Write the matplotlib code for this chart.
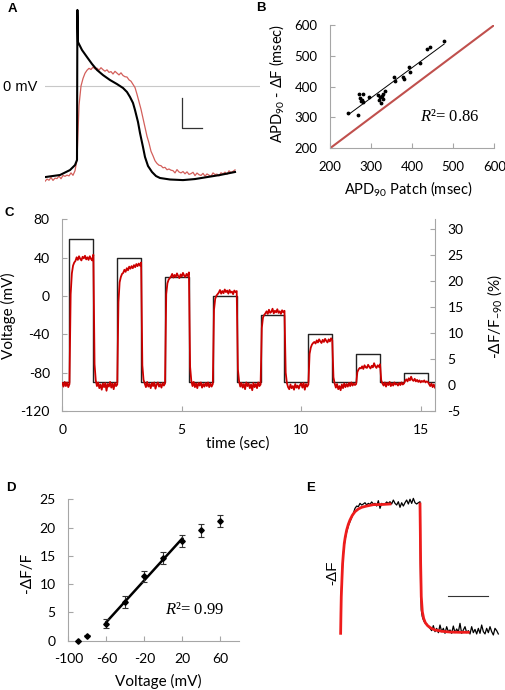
import numpy as np
import matplotlib.pyplot as plt

plt.rcParams['font.family'] = ['Lato', 'DejaVu Sans']
plt.rcParams['mathtext.fontset'] = 'custom'
plt.rcParams['mathtext.rm'] = 'Lato'
plt.rcParams['mathtext.it'] = 'Liberation Serif:italic'
plt.rcParams['axes.unicode_minus'] = False

# ---------------- data ----------------
# A: action potential, patch clamp (black) and optical signal (red)
ap_patch_t = [0, 75, 125, 150, 160, 162, 165, 185, 210, 235, 260, 290, 325, 360, 390, 410, 425,
              440, 450, 465, 475, 490, 500, 515, 535, 555, 575, 625, 690, 750, 810, 875, 950]
ap_patch_v = [-60.7, -59.3, -56, -52.7, -49.3, 50.7, 29.3, 24, 19.3, 14.7, 10.7, 7.3, 4, 1.3, -1.3,
              -4, -7.3, -11.3, -16, -24, -31.3, -40.7, -47.3, -53.3, -57.3, -60, -61.3, -62.3,
              -62.7, -62, -60.7, -59.3, -57.3]
ap_optical_dt = 10  # ms per sample
ap_optical_v = [
    -63.5, -62.0, -62.8, -61.0, -62.9, -61.4, -61.7, -60.0, -61.8, -59.6,
    -60.2, -59.4, -59.9, -57.9, -59.5, -56.5, -49.0, -13.0, 0.0, 5.0,
    8.5, 10.5, 11.8, 11.0, 12.6, 11.4, 11.9, 10.6, 12.2, 10.9,
    9.9, 10.8, 9.1, 9.6, 8.0, 9.8, 8.6, 7.4, 8.8, 7.0,
    6.2, 6.0, 4.1, 3.2, 1.1, -1.0, -5.5, -10.5, -15.5, -21.5,
    -27.5, -33.5, -38.0, -43.5, -46.5, -49.8, -51.6, -52.8, -53.1, -54.5,
    -54.2, -55.8, -55.3, -56.1, -56.4, -57.9, -55.7, -57.3, -57.9, -57.0,
    -58.5, -57.2, -58.9, -58.4, -57.5, -59.7, -58.0, -59.1, -59.6, -58.2,
    -60.1, -58.6, -59.4, -60.2, -57.9, -59.0, -58.7, -59.9, -57.8, -58.6,
    -57.4, -58.8, -56.5, -57.7, -56.9, -55.9]

# B: APD90 patch vs optical
apd_patch = [245, 267, 271, 280, 273, 277, 281, 275, 296, 318, 322, 326, 330, 320, 323, 328, 334,
             356, 358, 377, 380, 393, 394, 418, 437, 444, 478]
apd_optical = [316, 308, 376, 376, 362, 357, 351, 354, 367, 373, 366, 370, 376, 357, 348, 361, 387,
               430, 418, 430, 424, 465, 449, 478, 521, 530, 549]

# C: voltage steps and -dF/F
step_start = [0.3, 2.3, 4.3, 6.3, 8.3, 10.3, 12.3, 14.3]
step_level = [60, 40, 20, 0, -20, -40, -60, -80]
step_len = 1.0
holding_mv = -90
dff_dt = 0.05  # s per sample
dff_trace = [
    # 0-2 s, step to 60 mV
    0.4, -0.3, 0.6, -0.2, 0.5, -0.4, 0.2, 17.5, 21.5, 23.0, 23.6,
    23.9, 24.6, 24.1, 24.8, 24.3, 24.0, 24.7, 24.4, 24.9, 24.2, 24.6, 24.1, 24.8, 24.3, 24.0, 25.1,
    4.0, 0.9, -0.2, 0.5, -0.6, 0.1, -0.9, 0.3, -0.4, 0.4, -1.1, 0.2, -0.3,
    # 2-4 s, 40 mV
    0.6, -0.5, 0.3, -0.8, 0.4, -0.2, 0.1, 16.0, 19.8, 20.8, 21.4,
    21.6, 22.2, 21.8, 22.5, 22.1, 22.8, 22.4, 22.9, 22.5, 23.1, 22.7, 23.3, 22.9, 23.4, 23.0, 23.6,
    3.8, 1.0, 0.3, -0.4, 0.6, -0.3, 0.2, -0.6, 0.4, -0.2, 0.5, -0.7, 0.1,
    # 4-6 s, 20 mV
    0.5, -0.3, 0.2, -0.5, 0.4, -0.1, 0.3, 17.5, 19.6, 20.3, 20.6,
    20.9, 21.4, 20.7, 21.2, 20.8, 21.5, 21.0, 20.6, 21.3, 20.9, 21.6, 21.1, 20.8, 21.4, 21.0, 21.7,
    3.5, 0.8, -0.2, 0.6, -0.4, 0.3, -0.6, 0.4, -0.1, 0.5, -0.5, 0.2, -0.3,
    # 6-8 s, 0 mV
    0.4, -0.2, 0.5, -0.4, 0.3, -0.3, 0.2, 14.5, 16.6, 17.2, 17.5,
    17.8, 18.3, 17.6, 18.1, 17.7, 18.4, 17.9, 18.2, 17.6, 18.3, 17.8, 18.0, 17.5, 18.2, 17.9, 18.1,
    3.0, 0.7, -0.3, 0.4, -0.5, 0.2, -0.8, 0.5, -0.2, 0.3, -0.6, 0.1, -1.0,
    # 8-10 s, -20 mV
    0.4, -0.4, 0.2, -0.6, 0.5, -0.2, 0.1, 11.0, 13.0, 13.5, 13.8,
    14.2, 13.7, 14.5, 13.9, 14.1, 14.7, 13.8, 14.3, 14.0, 14.6, 13.9, 14.2, 13.7, 14.4, 14.0, 14.3,
    2.4, 0.4, -0.4, -0.8, 0.1, -0.6, -0.2, -0.9, 0.2, -0.5, -0.1, -0.7, 0.0,
    # 10-12 s, -40 mV
    0.3, -0.5, 0.4, -0.9, 0.2, -0.3, 0.1, 6.0, 7.2, 7.8, 8.1,
    8.3, 8.0, 8.6, 8.2, 8.8, 8.4, 8.1, 8.7, 8.3, 8.9, 8.5, 8.2, 8.8, 8.4, 9.0, 8.6,
    1.5, 0.3, -0.5, 0.2, -0.8, -0.2, -1.0, 0.1, -0.6, 0.3, -0.4, 0.2, -0.3,
    # 12-14 s, -60 mV
    0.4, -0.2, 0.5, -0.1, 0.3, 0.0, 0.2, 2.5, 3.0, 3.3, 3.2,
    3.6, 3.1, 3.8, 3.4, 3.3, 3.9, 3.5, 3.2, 3.7, 3.4, 4.2, 3.6, 3.3, 3.8, 3.5, 4.0,
    0.9, 0.3, -0.1, 0.5, -0.3, 0.4, 0.0, 0.6, -0.2, 0.3, -0.1, 0.5, 0.1,
    # 14-15.6 s, -80 mV
    0.3, -0.1, 0.4, 0.0, 0.5, 0.1, 0.3,
    0.8, 1.1, 0.7, 1.3, 0.9, 1.6, 1.0, 0.8, 1.2, 0.7, 1.0, 0.6, 0.9, 0.5, 0.8, 0.6, 0.9, 0.5, 0.7, 0.6,
    0.2, -0.2, 0.3, -0.4, 0.1, -0.5]

# D: -dF/F vs step voltage
step_mv = [-90, -80, -60, -40, -20, 0, 20, 40, 60]
dff_mean = [0.0, 0.85, 3.0, 6.8, 11.4, 14.6, 17.6, 19.5, 21.2]
dff_sem = [0.0, 0.1, 0.8, 1.1, 1.0, 1.1, 1.1, 1.1, 1.1]
fit_range = (-60, 20)

# E: single step, fluorescence (black) and exponential fits (red); t in ms, F in % of max
e_trace = [(0, -1.3), (4, 14.4), (8, 30.0), (17, 43.1), (25, 53.5), (38, 64.0), (55, 71.8),
           (76, 78.3), (101, 83.6), (130, 88.0), (160, 92.7), (181, 96.6), (202, 98.4),
           (223, 97.9), (244, 100.5), (265, 99.2), (286, 100.0), (307, 101.0), (328, 99.2),
           (349, 100.5), (370, 99.7), (391, 101.6), (412, 100.0), (433, 100.5), (454, 98.4),
           (475, 102.6), (496, 96.6), (517, 100.5), (538, 99.7), (559, 100.0), (580, 101.6),
           (601, 100.5), (622, 101.8), (643, 100.0), (664, 103.1), (685, 100.5), (706, 99.2),
           (727, 101.8), (748, 97.4), (769, 101.0), (790, 98.4), (811, 101.0), (832, 103.1),
           (853, 100.0), (874, 103.7), (895, 100.5), (916, 104.4), (937, 101.0), (958, 100.0),
           (979, 101.0), (1000, 101.8), (1004, 66.6), (1008, 35.2), (1016, 17.0), (1029, 11.7),
           (1046, 8.6), (1063, 7.0), (1084, 6.0), (1105, 3.9), (1126, 2.6), (1147, 0.8),
           (1168, 4.7), (1189, 0.0), (1210, 2.6), (1231, -0.8), (1252, 5.2), (1273, 0.0),
           (1294, 2.6), (1315, -1.3), (1336, 3.9), (1357, 0.0), (1378, 1.3), (1399, -1.3),
           (1420, 4.4), (1441, -0.8), (1462, 2.1), (1483, -0.3), (1504, 6.5), (1525, -1.3),
           (1546, 1.3), (1567, 3.9), (1588, -0.8), (1609, 0.8), (1630, -1.8), (1651, 3.9),
           (1672, -0.8), (1693, 1.8), (1714, -1.8), (1735, 2.6), (1756, -1.3), (1777, 5.2),
           (1798, 0.0), (1819, -1.8), (1840, 2.6), (1861, -0.8), (1882, 3.9), (1903, 0.0),
           (1924, -2.6), (1945, 2.6), (1966, 0.8), (1987, -1.8)]
e_fit_rise = [(0, -1.3), (4, 14.4), (8, 27.4), (17, 41.8), (25, 53.5), (34, 60.8), (46, 69.2),
              (59, 74.4), (76, 79.6), (97, 84.1), (118, 87.5), (147, 91.1), (181, 94.0),
              (223, 96.1), (265, 97.4), (328, 98.4), (412, 99.5), (517, 99.6), (622, 100.0)]
e_fit_fall = [(1000, 100.0), (1004, 79.6), (1008, 53.5), (1016, 27.4), (1029, 15.7),
              (1046, 10.4), (1067, 7.0), (1096, 4.7), (1134, 2.9), (1189, 1.3), (1273, 0.3),
              (1378, -0.3), (1504, -0.5), (1609, -0.5)]

# ---------------- layout helpers (pixel boxes on a 505x690 canvas) ----------------
W, H = 505, 690
fig = plt.figure(figsize=(W / 100, H / 100), dpi=100)


def px_axes(x0, y0, x1, y1):
    return fig.add_axes([x0 / W, 1 - y1 / H, (x1 - x0) / W, (y1 - y0) / H])


def px_text(x, y, s, **kw):
    fig.text(x / W, 1 - y / H, s, **kw)


GRAY = '#a6a6a6'
ARIAL = ['Liberation Sans', 'DejaVu Sans']


def excel_style(ax, sides=('left', 'bottom'), size=10):
    for name, sp in ax.spines.items():
        sp.set_visible(name in sides)
        sp.set_color(GRAY)
        sp.set_linewidth(0.8)
    ax.tick_params(direction='in', length=3.5, width=0.8, color=GRAY, labelsize=size, pad=9)


# ---------------- A ----------------
axA = px_axes(45, 5, 260, 190)
axA.set_xlim(0, 1075)
axA.set_ylim(-69.3, 54)
axA.axis('off')
axA.axhline(0, color='#c8c8c8', lw=0.8)
t_opt = np.arange(len(ap_optical_v)) * ap_optical_dt
axA.plot(t_opt, ap_optical_v, color='#d35f5b', lw=0.9)
axA.plot(ap_patch_t, ap_patch_v, color='black', lw=1.5)
axA.plot([685, 685, 785], [-8, -28, -28], color='#333333', lw=0.9)
px_text(37, 87, '0 mV', ha='right', va='center', fontsize=10.5, family=ARIAL)

# ---------------- B ----------------
axB = px_axes(330, 25, 494.3, 148.3)
excel_style(axB, size=9.5)
axB.set_xlim(200, 600)
axB.set_ylim(200, 600)
axB.set_xticks([200, 300, 400, 500, 600])
axB.set_yticks([200, 300, 400, 500, 600])
axB.plot([200, 600], [200, 600], color='#c0504d', lw=1.5)
axB.scatter(apd_patch, apd_optical, s=3, color='black', zorder=3)
slope, icpt = np.polyfit(apd_patch, apd_optical, 1)
xf = np.array([min(apd_patch), max(apd_patch)])
axB.plot(xf, slope * xf + icpt, color='black', lw=0.7)
axB.text(420, 301, r'$\mathit{R}$²= 0.86', family=['Liberation Serif', 'DejaVu Serif'],
         fontsize=12, va='center')
px_text(277, 83, r'APD$_{90}$ - ΔF (msec)', rotation=90, ha='center', va='center', fontsize=10.5)
px_text(408, 189, r'APD$_{90}$ Patch (msec)', ha='center', va='center', fontsize=10.5)

# ---------------- C ----------------
axC = px_axes(62.3, 219.4, 435, 411)
excel_style(axC)
axC.set_xlim(0, 15.6)
axC.set_ylim(-120, 80)
axC.set_yticks([-120, -80, -40, 0, 40, 80])
axC.set_xticks([0, 5, 10, 15])
step_t, step_v = [0], [holding_mv]
for t0, lvl in zip(step_start, step_level):
    step_t += [t0, t0, t0 + step_len, t0 + step_len]
    step_v += [holding_mv, lvl, lvl, holding_mv]
step_t.append(15.6)
step_v.append(holding_mv)
axC.plot(step_t, step_v, color='#222222', lw=1.0)

axC2 = axC.twinx()
excel_style(axC2, sides=('right',))
axC2.set_ylim(-5, 31.9)
axC2.set_yticks([-5, 0, 5, 10, 15, 20, 25, 30])
t_dff = np.arange(len(dff_trace)) * dff_dt
axC2.plot(t_dff, dff_trace, color='#cc0000', lw=1.3)

px_text(8, 316, 'Voltage (mV)', rotation=90, ha='center', va='center', fontsize=11)
px_text(238, 444, 'time (sec)', ha='center', va='center', fontsize=11)
px_text(495, 317, r'-ΔF/F$_{-90}$ (%)', rotation=90, ha='center', va='center', fontsize=11)

# ---------------- D ----------------
axD = px_axes(68.3, 499.3, 239.3, 640.7)
excel_style(axD)
axD.set_xlim(-100, 80)
axD.set_ylim(0, 25)
axD.set_xticks([-100, -60, -20, 20, 60])
axD.set_yticks([0, 5, 10, 15, 20, 25])
axD.errorbar(step_mv, dff_mean, yerr=dff_sem, fmt='D', ms=2.8, color='black', ecolor='#333333',
             elinewidth=0.8, capsize=2, capthick=0.8, clip_on=False, zorder=3)
sel = [i for i, v in enumerate(step_mv) if fit_range[0] <= v <= fit_range[1]]
m, b = np.polyfit([step_mv[i] for i in sel], [dff_mean[i] for i in sel], 1)
xd = np.array(fit_range)
axD.plot(xd, m * xd + b, color='black', lw=1.8)
axD.text(2, 5.4, r'$\mathit{R}$²= 0.99', family=['Liberation Serif', 'DejaVu Serif'],
         fontsize=12, va='center')
px_text(27, 573, '-ΔF/F', rotation=90, ha='center', va='center', fontsize=11)
px_text(158, 681, 'Voltage (mV)', ha='center', va='center', fontsize=11)

# ---------------- E ----------------
axE = px_axes(330, 480, 505, 690)
axE.set_xlim(-134, 2071)
axE.set_ylim(-45.7, 118.8)
axE.axis('off')
et, ef = zip(*e_trace)
axE.plot(et, ef, color='black', lw=0.9)
for seg in (e_fit_rise, e_fit_fall):
    st, sf = zip(*seg)
    axE.plot(st, sf, color='#ee1c1c', lw=2.0)
axE.plot([1355, 1855], [28, 28], color='#333333', lw=0.8)
px_text(332, 573, '-ΔF', rotation=90, ha='center', va='center', fontsize=11, family=ARIAL)

# ---------------- panel letters ----------------
for letter, x, y in [('A', 12, 9), ('B', 261, 8), ('C', 9, 213), ('D', 11, 488), ('E', 311, 488)]:
    px_text(x, y, letter, ha='center', va='center', fontsize=9.5, fontweight='bold', family=ARIAL)

fig.savefig('out.png', dpi=100)
